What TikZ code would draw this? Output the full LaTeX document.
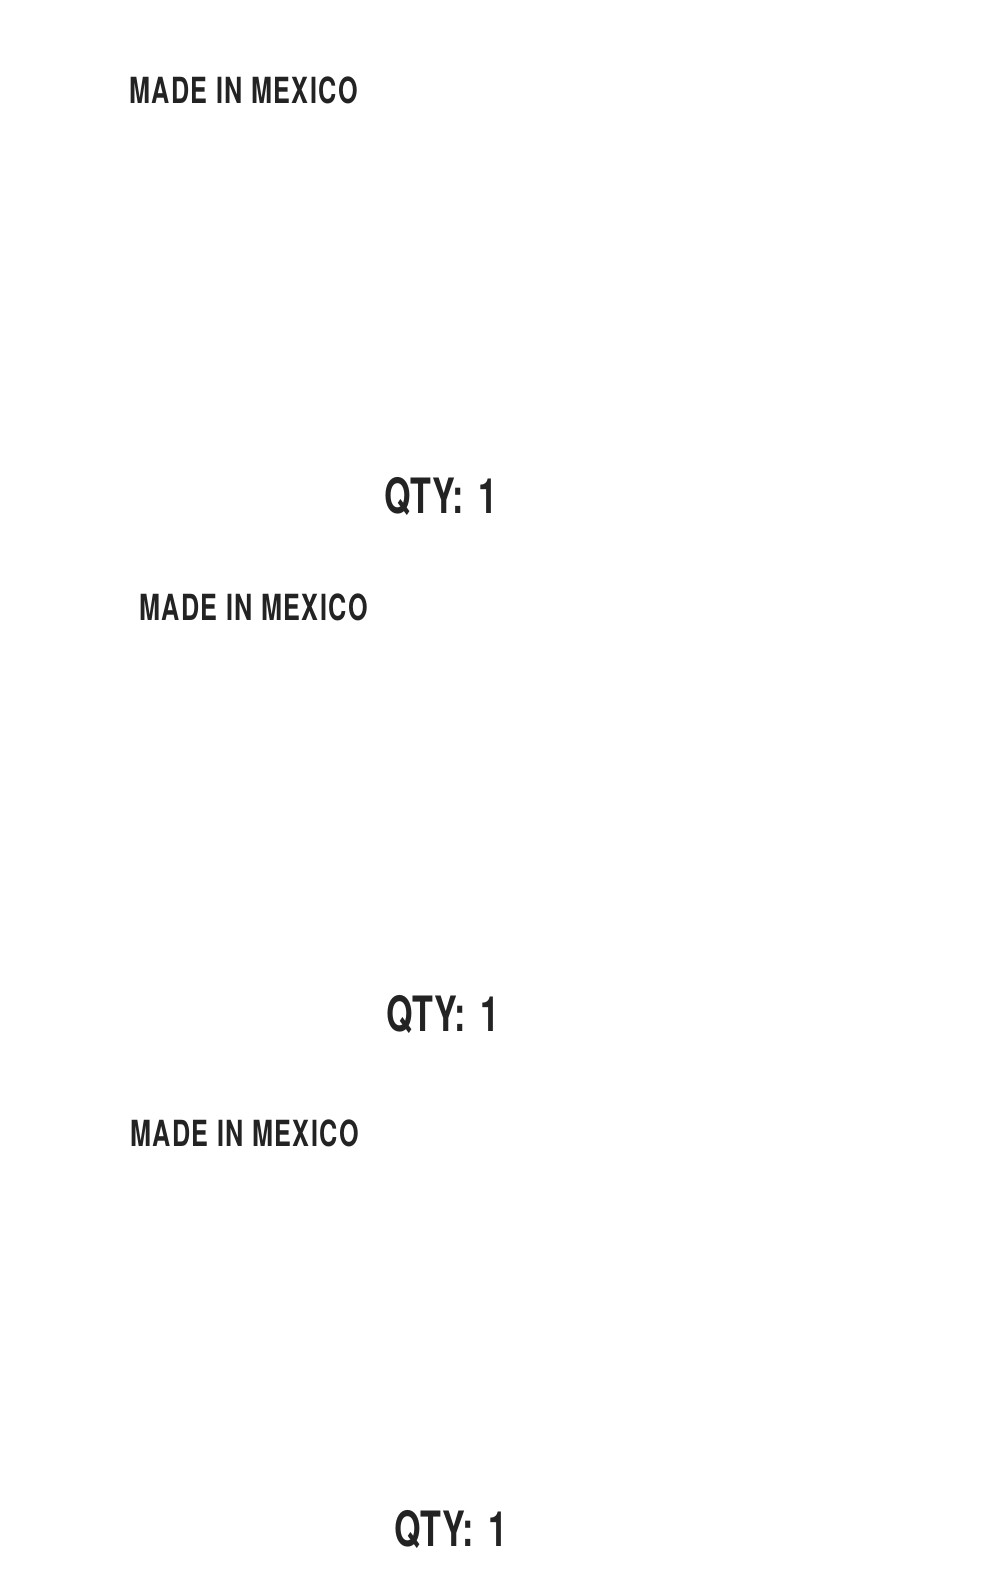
\documentclass[tikz,border=0pt]{standalone}
\usepackage{fontspec}
\newfontfamily\madefont[FakeStretch=0.70,LetterSpace=4]{TeX Gyre Heros}
\newfontfamily\qtyfont[FakeStretch=0.70,WordSpace=1.6]{TeX Gyre Heros}
\definecolor{labelink}{HTML}{232323}
\tikzset{
  made/.style={anchor=base west, inner sep=0pt, text=labelink, font=\madefont\bfseries\fontsize{36}{40}\selectfont},
  qty/.style={anchor=base west, inner sep=0pt, text=labelink, font=\qtyfont\bfseries\fontsize{48.7}{52}\selectfont}
}
\begin{document}
\begin{tikzpicture}[x=1pt,y=-1pt]
\useasboundingbox[fill=white] (0,0) rectangle (990,1576);
% three labels, one under the other
\node[made] (made1) at (129,103.3) {MADE IN MEXICO};
\node[qty]  (qty1)  at (384,513)   {QTY: 1};
\node[made] (made2) at (139,620.7) {MADE IN MEXICO};
\node[qty]  (qty2)  at (386,1031.7) {QTY: 1};
\node[made] (made3) at (130,1146)  {MADE IN MEXICO};
\node[qty]  (qty3)  at (394,1546)  {QTY: 1};
\end{tikzpicture}
\end{document}
